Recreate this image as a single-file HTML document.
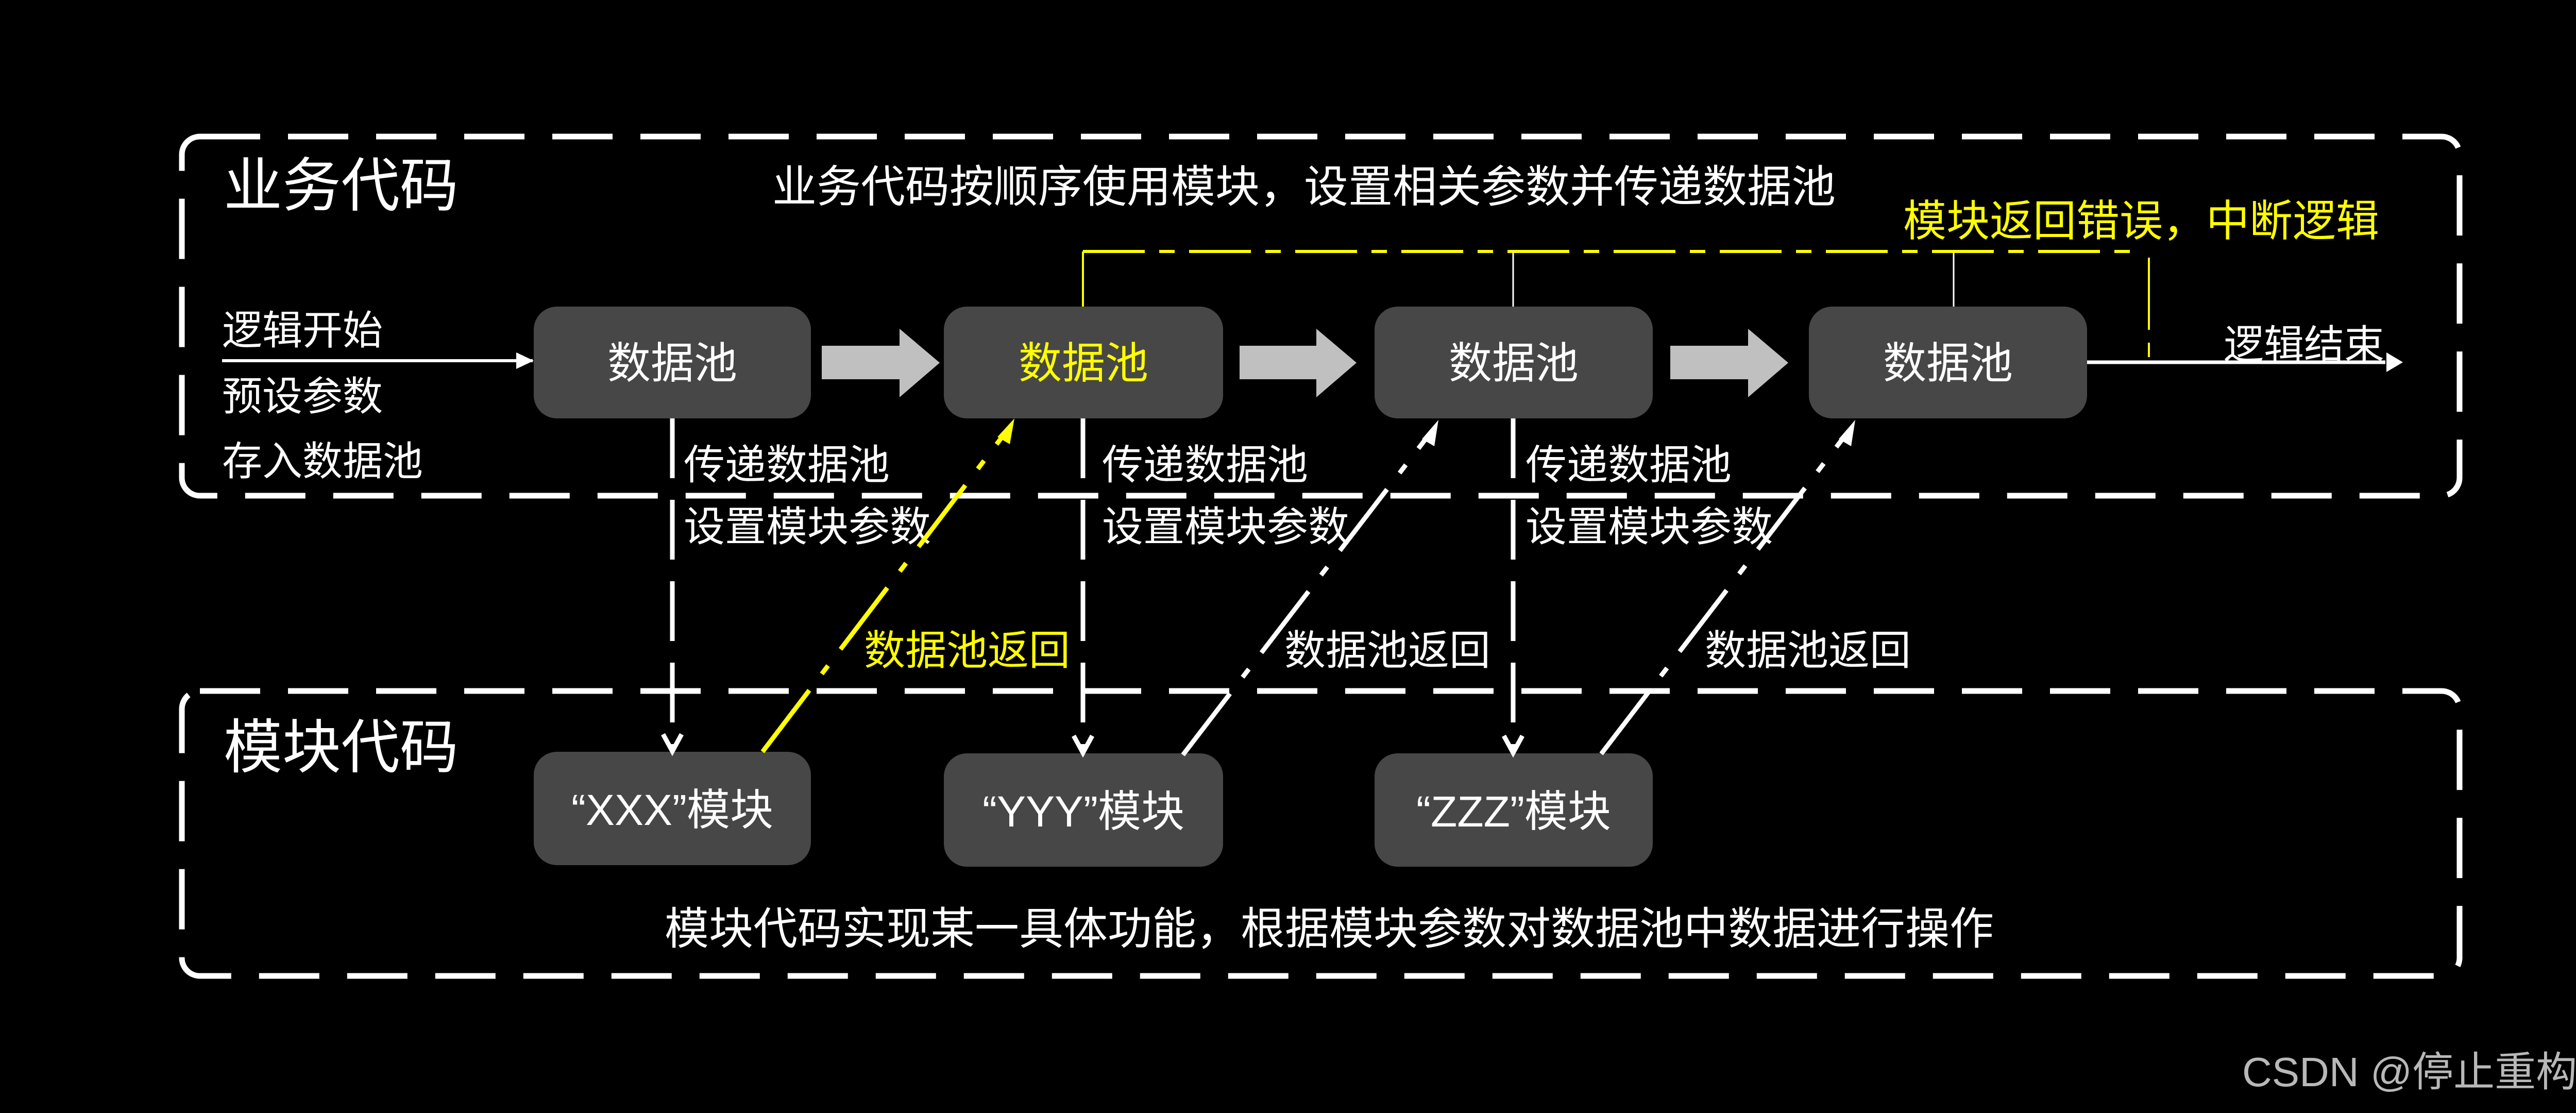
<!DOCTYPE html>
<html><head><meta charset="utf-8"><style>
html,body{margin:0;padding:0;background:#000;width:5120px;height:2160px;overflow:hidden}
svg{display:block}
text{font-family:"Liberation Sans","Noto Sans CJK SC",sans-serif}
</style></head><body>
<svg width="5120" height="2160" viewBox="0 0 5120 2160" xmlns="http://www.w3.org/2000/svg">
<defs>
<marker id="aw" markerWidth="10" markerHeight="10" refX="9" refY="5" orient="auto" markerUnits="userSpaceOnUse" viewBox="0 0 10 10"><path d="M0,0 L10,5 L0,10 z" fill="#fff"/></marker>
</defs>
<rect width="5120" height="2160" fill="#000"/>
<!-- dashed containers -->
<rect x="353" y="265" width="4421" height="697" rx="35" fill="none" stroke="#fff" stroke-width="11" stroke-dasharray="117 54"/>
<rect x="353" y="1341" width="4421" height="553" rx="35" fill="none" stroke="#fff" stroke-width="11" stroke-dasharray="117 54"/>

<text x="434" y="400" font-size="114" fill="#fff">业务代码</text>
<text x="434" y="1490" font-size="114" fill="#fff">模块代码</text>
<text x="1499" y="392" font-size="86" fill="#fff">业务代码按顺序使用模块，设置相关参数并传递数据池</text>
<text x="3694" y="458" font-size="84" fill="#ff0">模块返回错误，中断逻辑</text>
<text x="1290" y="1832" font-size="86" fill="#fff">模块代码实现某一具体功能，根据模块参数对数据池中数据进行操作</text>

<!-- left start -->
<text x="431" y="668" font-size="78" fill="#fff">逻辑开始</text>
<text x="431" y="796" font-size="78" fill="#fff">预设参数</text>
<text x="431" y="922" font-size="78" fill="#fff">存入数据池</text>
<line x1="431" y1="700" x2="1034" y2="700" stroke="#fff" stroke-width="6"/>
<path d="M1002,684 L1036,700 L1002,716 z" fill="#fff"/>

<!-- yellow bracket and lines to top -->
<line x1="2102" y1="595" x2="2102" y2="488" stroke="#ff0" stroke-width="4"/>
<line x1="2102" y1="488" x2="4157" y2="488" stroke="#ff0" stroke-width="6" stroke-dasharray="120 28 30 28"/>
<line x1="4171" y1="500" x2="4171" y2="693" stroke="#ff0" stroke-width="4" stroke-dasharray="140 25"/>
<line x1="2937" y1="595" x2="2937" y2="490" stroke="#fff" stroke-width="3"/>
<line x1="3792" y1="595" x2="3792" y2="490" stroke="#fff" stroke-width="3"/>

<!-- top boxes -->
<rect x="1036" y="595" width="538" height="217" rx="45" fill="#474747"/>
<rect x="1832" y="595" width="542" height="217" rx="45" fill="#474747"/>
<rect x="2668" y="595" width="540" height="217" rx="45" fill="#474747"/>
<rect x="3511" y="595" width="540" height="217" rx="45" fill="#474747"/>
<text x="1305" y="705" font-size="84" fill="#fff" text-anchor="middle" dominant-baseline="central">数据池</text>
<text x="2103" y="705" font-size="84" fill="#ff0" text-anchor="middle" dominant-baseline="central">数据池</text>
<text x="2938" y="705" font-size="84" fill="#fff" text-anchor="middle" dominant-baseline="central">数据池</text>
<text x="3781" y="705" font-size="84" fill="#fff" text-anchor="middle" dominant-baseline="central">数据池</text>

<!-- gray block arrows -->
<path d="M1595,671 H1746 V638 L1824,704 L1746,771 V736 H1595 z" fill="#c0c0c0"/>
<path d="M2406,671 H2555 V638 L2633,704 L2555,771 V736 H2406 z" fill="#c0c0c0"/>
<path d="M3242,671 H3393 V638 L3471,704 L3393,771 V736 H3242 z" fill="#c0c0c0"/>

<!-- end arrow -->
<line x1="4051" y1="703" x2="4630" y2="703" stroke="#fff" stroke-width="7"/>
<path d="M4632,684 L4664,703 L4632,722 z" fill="#fff"/>
<text x="4316" y="696" font-size="78" fill="#fff">逻辑结束</text>

<!-- bottom boxes -->
<rect x="1036" y="1459" width="538" height="220" rx="45" fill="#474747"/>
<rect x="1832" y="1462" width="542" height="220" rx="45" fill="#474747"/>
<rect x="2668" y="1462" width="540" height="220" rx="45" fill="#474747"/>
<text x="1305" y="1572" font-size="84" fill="#fff" text-anchor="middle" dominant-baseline="central">“XXX”模块</text>
<text x="2103" y="1575" font-size="84" fill="#fff" text-anchor="middle" dominant-baseline="central">“YYY”模块</text>
<text x="2938" y="1575" font-size="84" fill="#fff" text-anchor="middle" dominant-baseline="central">“ZZZ”模块</text>

<!-- vertical dashed down arrows -->
<g stroke="#fff" stroke-width="9" fill="none">
<line x1="1305" y1="812" x2="1305" y2="1450" stroke-dasharray="116 42"/>
<line x1="2102" y1="812" x2="2102" y2="1455" stroke-dasharray="116 42"/>
<line x1="2937" y1="812" x2="2937" y2="1455" stroke-dasharray="116 42"/>
<path d="M1287,1425 L1305,1458 L1323,1425"/>
<path d="M2084,1428 L2102,1461 L2120,1428"/>
<path d="M2919,1428 L2937,1461 L2955,1428"/>
</g>
<text x="1327" y="930" font-size="80" fill="#fff">传递数据池</text>
<text x="1327" y="1050" font-size="80" fill="#fff">设置模块参数</text>
<text x="2139" y="930" font-size="80" fill="#fff">传递数据池</text>
<text x="2139" y="1050" font-size="80" fill="#fff">设置模块参数</text>
<text x="2961" y="930" font-size="80" fill="#fff">传递数据池</text>
<text x="2961" y="1050" font-size="80" fill="#fff">设置模块参数</text>

<!-- diagonal return arrows -->
<line x1="1480" y1="1459" x2="1955" y2="835" stroke="#ff0" stroke-width="9" stroke-dasharray="150 40 20 40"/>
<path d="M1969,812 L1936,848 L1960,862 z" fill="#ff0" transform="rotate(0)"/>
<line x1="2296" y1="1465" x2="2778" y2="838" stroke="#fff" stroke-width="9" stroke-dasharray="150 40 20 40"/>
<path d="M2792,815 L2760,852 L2784,866 z" fill="#fff"/>
<line x1="3108" y1="1463" x2="3587" y2="838" stroke="#fff" stroke-width="9" stroke-dasharray="150 40 20 40"/>
<path d="M3601,815 L3569,852 L3593,866 z" fill="#fff"/>
<text x="1677" y="1290" font-size="80" fill="#ff0">数据池返回</text>
<text x="2493" y="1290" font-size="80" fill="#fff">数据池返回</text>
<text x="3309" y="1290" font-size="80" fill="#fff">数据池返回</text>

<text x="4352" y="2108" font-size="80" fill="#b8b8b8">CSDN @停止重构</text>
</svg>
</body></html>
